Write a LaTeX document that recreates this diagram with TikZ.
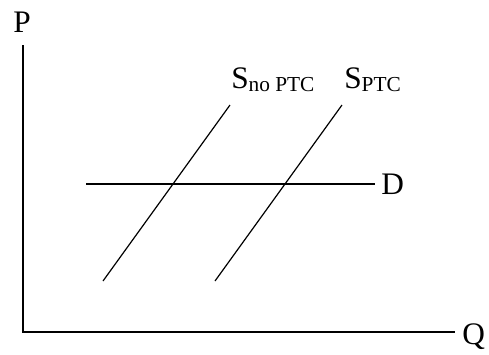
\documentclass[tikz,border=0pt]{standalone}
\usepackage{fontspec}
\setmainfont{Liberation Serif}
\usepackage{tikz}
\newcommand{\sublab}[1]{\raisebox{-2.3pt}{\fontsize{16}{16}\selectfont #1}}

\begin{document}
\begin{tikzpicture}[x=0.75pt,y=-0.75pt,line cap=butt,line join=miter,
    curve/.style={line width=0.9pt},
    lab/.style={anchor=base west,inner sep=0pt,font=\fontsize{23.5}{23.5}\selectfont}]
  \useasboundingbox (0,0) rectangle (489,354);
  % axes
  \coordinate (org) at (23,332);
  \coordinate (ptop) at (23,45);
  \coordinate (qend) at (455,332);
  \draw[curve] (ptop) -- (org) -- (qend);
  \node[lab] (plab) at (13,32) {P};
  \node[lab] (qlab) at (462,344) {Q};
  % demand
  \coordinate (d0) at (86,184);
  \coordinate (d1) at (375,184);
  \draw[curve] (d0) -- (d1);
  \node[lab] (dlab) at (381,194) {D};
  % supply curves
  \coordinate (sn0) at (103,281);
  \coordinate (sn1) at (230,105);
  \coordinate (sp0) at (215,281);
  \coordinate (sp1) at (342,105);
  \draw[curve] (sn0) -- (sn1);
  \draw[curve] (sp0) -- (sp1);
  \node[lab] (snlab) at (231,88) {S\sublab{no PTC}};
  \node[lab] (splab) at (344,88) {S\sublab{PTC}};
\end{tikzpicture}
\end{document}
